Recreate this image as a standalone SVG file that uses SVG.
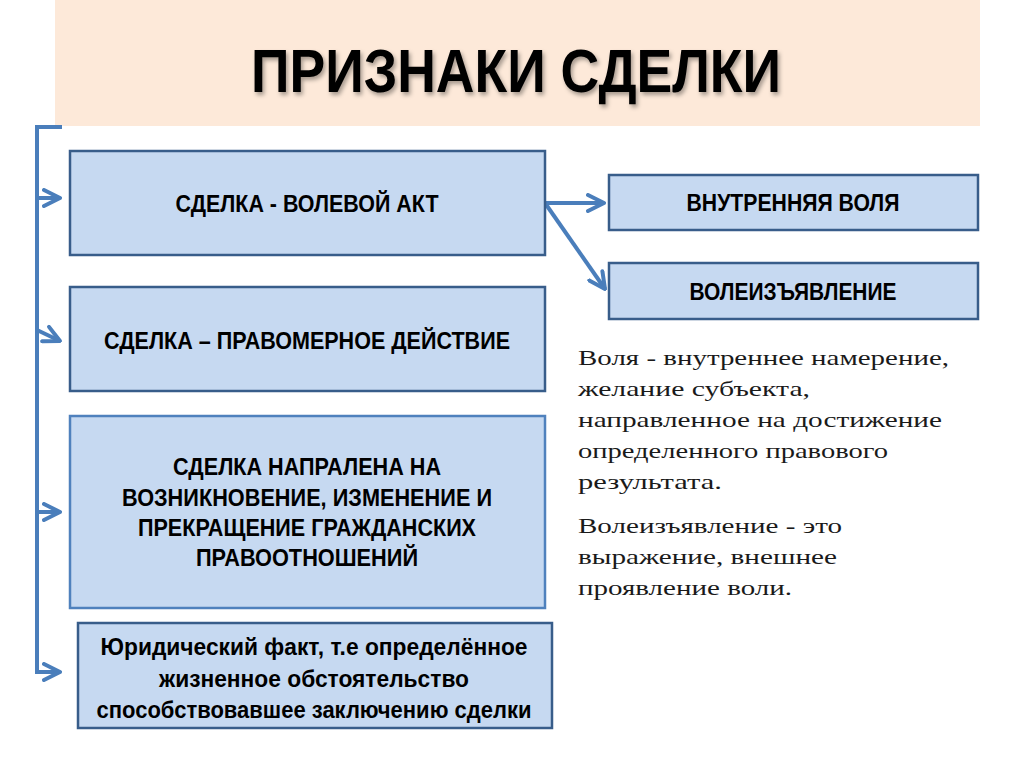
<svg xmlns="http://www.w3.org/2000/svg" width="1024" height="767" viewBox="0 0 1024 767">
<style>
.box{fill:#c6d9f1;stroke:#385d8a;stroke-width:2.5}
.box2{fill:#c6d9f1;stroke:#4f81bd;stroke-width:2.5}
.bt{font-family:"Liberation Sans",Arial,sans-serif;font-weight:bold;font-size:23px;fill:#000;text-anchor:middle}
.st{font-family:"Liberation Serif","Times New Roman",serif;font-size:22px;fill:#1a1a1a}
.con{fill:none;stroke:#4a7ebb;stroke-width:4}
</style>
<defs>
<marker id="ah" viewBox="0 0 10 10" refX="9" refY="5" markerWidth="5" markerHeight="5" markerUnits="strokeWidth" orient="auto">
<path d="M1,1 L9,5 L1,9" fill="none" stroke="#4a7ebb" stroke-width="2" stroke-linecap="round" stroke-linejoin="round"/>
</marker>
<filter id="sh" x="-5%" y="-20%" width="110%" height="140%">
<feDropShadow dx="2" dy="3" stdDeviation="2" flood-color="#000" flood-opacity="0.35"/>
</filter>
</defs>
<rect width="1024" height="767" fill="#ffffff"/>
<g id="header">
<rect x="55" y="0" width="925" height="126" fill="#fde9d9"/>
<text x="516" y="92" font-family="Liberation Sans, Arial, sans-serif" font-weight="bold" font-size="62" text-anchor="middle" textLength="530" lengthAdjust="spacingAndGlyphs" filter="url(#sh)">ПРИЗНАКИ СДЕЛКИ</text>
</g>
<g id="connectors">
<path class="con" d="M62,127 L37,127 L37,672 L60,672" marker-end="url(#ah)"/>
<path class="con" d="M37,198 L60,198" marker-end="url(#ah)"/>
<path class="con" d="M37,330 L60,341" marker-end="url(#ah)"/>
<path class="con" d="M37,512 L60,512" marker-end="url(#ah)"/>
<path class="con" d="M545,203 L604,203" marker-end="url(#ah)"/>
<path class="con" d="M545,203 L605,289" marker-end="url(#ah)"/>
</g>
<g id="n1">
<rect class="box" x="70" y="151" width="475" height="104"/>
<text class="bt" x="307" y="212" textLength="263" lengthAdjust="spacingAndGlyphs">СДЕЛКА - ВОЛЕВОЙ АКТ</text>
</g>
<g id="n2">
<rect class="box" x="70" y="287" width="475" height="104"/>
<text class="bt" x="307" y="349" textLength="406" lengthAdjust="spacingAndGlyphs">СДЕЛКА – ПРАВОМЕРНОЕ ДЕЙСТВИЕ</text>
</g>
<g id="n3">
<rect class="box2" x="70" y="416" width="475" height="192"/>
<text class="bt" x="307" y="475" textLength="268" lengthAdjust="spacingAndGlyphs">СДЕЛКА НАПРАЛЕНА НА</text>
<text class="bt" x="307" y="506" textLength="370" lengthAdjust="spacingAndGlyphs">ВОЗНИКНОВЕНИЕ, ИЗМЕНЕНИЕ И</text>
<text class="bt" x="307" y="536" textLength="338" lengthAdjust="spacingAndGlyphs">ПРЕКРАЩЕНИЕ ГРАЖДАНСКИХ</text>
<text class="bt" x="307" y="566" textLength="222" lengthAdjust="spacingAndGlyphs">ПРАВООТНОШЕНИЙ</text>
</g>
<g id="n4">
<rect class="box" x="78" y="623" width="474" height="105"/>
<text class="bt" x="314" y="655" textLength="427" lengthAdjust="spacingAndGlyphs">Юридический факт, т.е определённое</text>
<text class="bt" x="314" y="687" textLength="310" lengthAdjust="spacingAndGlyphs">жизненное обстоятельство</text>
<text class="bt" x="314" y="718" textLength="435" lengthAdjust="spacingAndGlyphs">способствовавшее заключению сделки</text>
</g>
<g id="n5">
<rect class="box" x="609" y="175" width="369" height="55"/>
<text class="bt" x="793" y="211" textLength="213" lengthAdjust="spacingAndGlyphs">ВНУТРЕННЯЯ ВОЛЯ</text>
</g>
<g id="n6">
<rect class="box" x="609" y="263" width="369" height="56"/>
<text class="bt" x="793" y="300" textLength="207" lengthAdjust="spacingAndGlyphs">ВОЛЕИЗЪЯВЛЕНИЕ</text>
</g>
<g id="notes">
<text class="st" x="578" y="365" textLength="371" lengthAdjust="spacingAndGlyphs">Воля - внутреннее намерение,</text>
<text class="st" x="578" y="396" textLength="232" lengthAdjust="spacingAndGlyphs">желание субъекта,</text>
<text class="st" x="578" y="427" textLength="364" lengthAdjust="spacingAndGlyphs">направленное на достижение</text>
<text class="st" x="578" y="458" textLength="310" lengthAdjust="spacingAndGlyphs">определенного правового</text>
<text class="st" x="578" y="489" textLength="144" lengthAdjust="spacingAndGlyphs">результата.</text>
<text class="st" x="578" y="533" textLength="264" lengthAdjust="spacingAndGlyphs">Волеизъявление - это</text>
<text class="st" x="578" y="564" textLength="259" lengthAdjust="spacingAndGlyphs">выражение, внешнее</text>
<text class="st" x="578" y="595" textLength="214" lengthAdjust="spacingAndGlyphs">проявление воли.</text>
</g>
</svg>
